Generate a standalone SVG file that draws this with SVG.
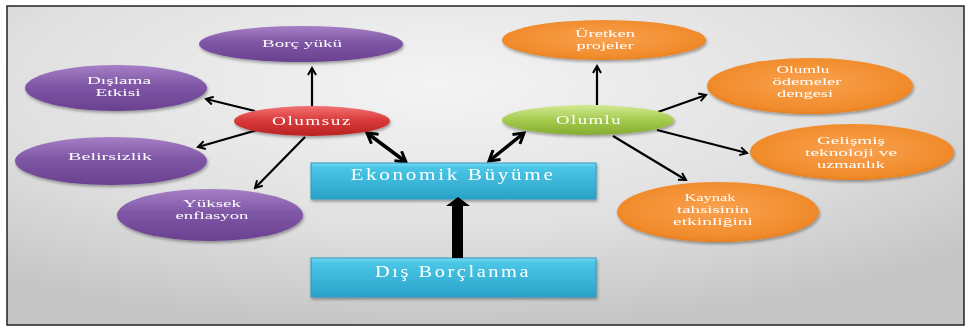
<svg xmlns="http://www.w3.org/2000/svg" width="967" height="327" viewBox="0 0 967 327">
<style>
.t{font-family:"Liberation Serif","DejaVu Serif",serif;font-size:11px;fill:#fff;text-anchor:middle}
.s{font-size:13px;letter-spacing:1px}
.bt{font-family:"Liberation Serif","DejaVu Serif",serif;font-size:16px;fill:#fff;text-anchor:middle;letter-spacing:2px}
.c{stroke:#000;stroke-width:2.2;fill:none;marker-end:url(#ah)}
.cd{stroke:#000;stroke-width:3.5;fill:none;marker-end:url(#ahb);marker-start:url(#ahbs)}
</style>
<defs>
<radialGradient id="bg" cx="0.45" cy="0.25" r="0.75">
<stop offset="0" stop-color="#f4f4f4"/><stop offset="0.6" stop-color="#e0e0e0"/><stop offset="1" stop-color="#c6c6c6"/>
</radialGradient>
<linearGradient id="pu" x1="0" y1="0" x2="0" y2="1">
<stop offset="0" stop-color="#a67fc6"/><stop offset="0.45" stop-color="#7f57a6"/><stop offset="1" stop-color="#6a4090"/>
</linearGradient>
<linearGradient id="rd" x1="0" y1="0" x2="0" y2="1">
<stop offset="0" stop-color="#f27272"/><stop offset="0.5" stop-color="#d83838"/><stop offset="1" stop-color="#b82222"/>
</linearGradient>
<linearGradient id="gr" x1="0" y1="0" x2="0" y2="1">
<stop offset="0" stop-color="#d2ea94"/><stop offset="0.5" stop-color="#a4ca4e"/><stop offset="1" stop-color="#86ac30"/>
</linearGradient>
<radialGradient id="or" cx="0.5" cy="0.45" r="0.6">
<stop offset="0" stop-color="#f9a250"/><stop offset="0.8" stop-color="#f18b2b"/><stop offset="1" stop-color="#e27818"/>
</radialGradient>
<linearGradient id="cy" x1="0" y1="0" x2="0" y2="1">
<stop offset="0" stop-color="#7adcf2"/><stop offset="0.12" stop-color="#4ac6e7"/><stop offset="1" stop-color="#2aa2c8"/>
</linearGradient>
<filter id="sh" x="-10%" y="-20%" width="120%" height="150%">
<feDropShadow dx="1" dy="2" stdDeviation="1.5" flood-color="#000" flood-opacity="0.35"/>
</filter>
<marker id="ah" markerWidth="10" markerHeight="10" refX="8" refY="5" orient="auto" markerUnits="userSpaceOnUse">
<path d="M1,1 L8,5 L1,9" fill="none" stroke="#000" stroke-width="2"/>
</marker>
<marker id="ahb" markerWidth="14" markerHeight="14" refX="11" refY="7" orient="auto" markerUnits="userSpaceOnUse">
<path d="M1,1 L11,7 L1,13" fill="none" stroke="#000" stroke-width="3"/>
</marker>
<marker id="ahbs" markerWidth="14" markerHeight="14" refX="3" refY="7" orient="auto" markerUnits="userSpaceOnUse">
<path d="M13,1 L3,7 L13,13" fill="none" stroke="#000" stroke-width="3"/>
</marker>
</defs>
<rect x="0" y="0" width="967" height="327" fill="#fff"/>
<rect x="7" y="6" width="957" height="319" fill="url(#bg)" stroke="#222" stroke-width="1.5"/>

<g id="connectors">
<line class="c" x1="312" y1="106" x2="312" y2="68"/>
<line class="c" x1="255" y1="111" x2="206" y2="99"/>
<line class="c" x1="257" y1="130" x2="198" y2="147"/>
<line class="c" x1="305" y1="137" x2="255" y2="188"/>
<line class="cd" x1="367" y1="133" x2="406" y2="162"/>
<line class="cd" x1="524" y1="133" x2="489" y2="161"/>
<line class="c" x1="597" y1="105" x2="597" y2="66"/>
<line class="c" x1="658" y1="112" x2="706" y2="95"/>
<line class="c" x1="657" y1="130" x2="747" y2="153"/>
<line class="c" x1="613" y1="136" x2="686" y2="180"/>
</g>

<g id="borc" filter="url(#sh)">
<ellipse cx="301" cy="44" rx="102" ry="18" fill="url(#pu)"/>
<text class="t" x="302" y="47" textLength="80" lengthAdjust="spacingAndGlyphs">Borç yükü</text>
</g>
<g id="dislama" filter="url(#sh)">
<ellipse cx="116" cy="88" rx="91" ry="23" fill="url(#pu)"/>
<text class="t" x="119" y="84" textLength="64" lengthAdjust="spacingAndGlyphs">Dışlama</text>
<text class="t" x="118" y="96" textLength="45" lengthAdjust="spacingAndGlyphs">Etkisi</text>
</g>
<g id="olumsuz" filter="url(#sh)">
<ellipse cx="312" cy="121" rx="78" ry="15" fill="url(#rd)"/>
<text class="t s" x="312" y="125" textLength="80" lengthAdjust="spacingAndGlyphs">Olumsuz</text>
</g>
<g id="belirsizlik" filter="url(#sh)">
<ellipse cx="111" cy="161" rx="96" ry="24" fill="url(#pu)"/>
<text class="t" x="110" y="160" textLength="84" lengthAdjust="spacingAndGlyphs">Belirsizlik</text>
</g>
<g id="yuksek" filter="url(#sh)">
<ellipse cx="210" cy="215" rx="93" ry="26" fill="url(#pu)"/>
<text class="t" x="212" y="207" textLength="58" lengthAdjust="spacingAndGlyphs">Yüksek</text>
<text class="t" x="212" y="219" textLength="73" lengthAdjust="spacingAndGlyphs">enflasyon</text>
</g>
<g id="ekonomik" filter="url(#sh)">
<rect x="311" y="163" width="285" height="36" fill="url(#cy)" stroke="#2a9cc0" stroke-width="1"/>
<text class="bt" x="453" y="180" textLength="205" lengthAdjust="spacingAndGlyphs">Ekonomik Büyüme</text>
</g>
<g id="dis" filter="url(#sh)">
<rect x="311" y="258" width="285" height="39" fill="url(#cy)" stroke="#2a9cc0" stroke-width="1"/>
<text class="bt" x="453" y="277" textLength="156" lengthAdjust="spacingAndGlyphs">Dış Borçlanma</text>
</g>
<g id="arrow-main">
<path d="M452,258 L452,206 L446,206 L458,197 L470,206 L463,206 L463,258 Z" fill="#000"/>
</g>
<g id="uretken" filter="url(#sh)">
<ellipse cx="604" cy="40" rx="102" ry="20" fill="url(#or)"/>
<text class="t" x="605" y="37" textLength="60" lengthAdjust="spacingAndGlyphs">Üretken</text>
<text class="t" x="605" y="49" textLength="57" lengthAdjust="spacingAndGlyphs">projeler</text>
</g>
<g id="olumlu" filter="url(#sh)">
<ellipse cx="588" cy="120" rx="86" ry="15" fill="url(#gr)"/>
<text class="t s" x="589" y="124" textLength="66" lengthAdjust="spacingAndGlyphs">Olumlu</text>
</g>
<g id="odemeler" filter="url(#sh)">
<ellipse cx="810" cy="86" rx="103" ry="28" fill="url(#or)"/>
<text class="t" x="803" y="73" textLength="53" lengthAdjust="spacingAndGlyphs">Olumlu</text>
<text class="t" x="807" y="85" textLength="69" lengthAdjust="spacingAndGlyphs">ödemeler</text>
<text class="t" x="805" y="97" textLength="56" lengthAdjust="spacingAndGlyphs">dengesi</text>
</g>
<g id="gelismis" filter="url(#sh)">
<ellipse cx="852" cy="152" rx="102" ry="28" fill="url(#or)"/>
<text class="t" x="851" y="144" textLength="68" lengthAdjust="spacingAndGlyphs">Gelişmiş</text>
<text class="t" x="851" y="156" textLength="92" lengthAdjust="spacingAndGlyphs">teknoloji ve</text>
<text class="t" x="851" y="168" textLength="68" lengthAdjust="spacingAndGlyphs">uzmanlık</text>
</g>
<g id="kaynak" filter="url(#sh)">
<ellipse cx="718" cy="212" rx="101" ry="30" fill="url(#or)"/>
<text class="t" x="710" y="201" textLength="51" lengthAdjust="spacingAndGlyphs">Kaynak</text>
<text class="t" x="713" y="213" textLength="72" lengthAdjust="spacingAndGlyphs">tahsisinin</text>
<text class="t" x="713" y="225" textLength="80" lengthAdjust="spacingAndGlyphs">etkinliğini</text>
</g>
</svg>
